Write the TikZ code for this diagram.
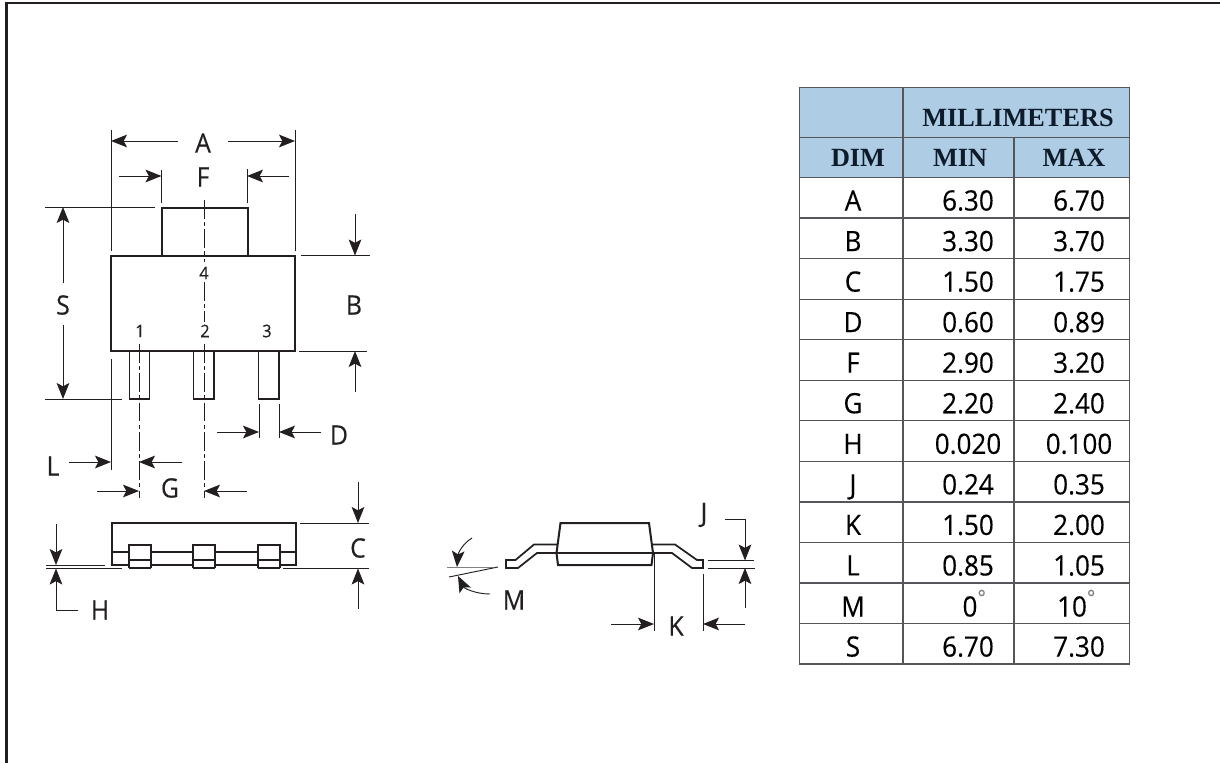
\documentclass[tikz,border=0pt]{standalone}
\usepackage{fontspec}
\setmainfont[FakeStretch=0.93,FakeBold=0.25]{Open Sans}
\newfontfamily\hdfont{Liberation Serif}
\usetikzlibrary{arrows.meta}
\definecolor{inkc}{HTML}{231F20}
\definecolor{hdblue}{HTML}{AECDE4}
\definecolor{gridc}{HTML}{55565A}
\definecolor{hdink}{HTML}{0E1B2A}
\tikzset{
  part/.style={draw=inkc,line width=1.5pt,line join=miter},
  thinpart/.style={draw=inkc,line width=0.9pt},
  ext/.style={draw=inkc,line width=0.7pt},
  center/.style={draw=inkc,line width=0.7pt,dash pattern=on 14pt off 2.5pt on 3pt off 2.5pt},
  dim/.style={draw=inkc,line width=0.7pt,-{Stealth[length=12pt,width=9.5pt,inset=2.5pt]}},
  lbl/.style={font=\fontsize{20}{20}\selectfont,text=inkc,inner sep=0pt,anchor=center},
  pinno/.style={font=\fontsize{13}{13}\selectfont,text=inkc,inner sep=0pt,anchor=center},
  hdr/.style={font=\hdfont\bfseries\fontsize{19.7}{19.7}\selectfont,text=hdink,inner sep=0pt,anchor=center},
  cell/.style={font=\fontsize{21}{21}\selectfont,text=black,inner sep=0pt,anchor=base},
  grid/.style={draw=gridc,line width=0.9pt}
}
\newcommand{\degmark}{\rlap{\raisebox{8.5pt}{\fontsize{16}{16}\selectfont\textcolor{gray}{°}}}}
\begin{document}
\begin{tikzpicture}[x=0.75pt,y=-0.75pt]
\useasboundingbox (0,0) rectangle (1220,763);
\fill[white] (0,0) rectangle (1220,763);
% frame
\draw[inkc,line width=1.9pt] (6.5,763) -- (6.5,3) -- (1220,3);
% top view: extension lines
\draw[ext] (111,130) -- (111,251);
\draw[ext] (295,130) -- (295,251);
\draw[ext] (161.5,170) -- (161.5,203);
\draw[ext] (247,169) -- (247,203);
\draw[ext] (45,207) -- (155,207);
\draw[ext] (45,399) -- (122,399);
\draw[ext] (301,255.5) -- (370,255.5);
\draw[ext] (299,351) -- (367,351);
\draw[ext] (111,359) -- (111,470);
\draw[ext] (259,404) -- (259,438);
\draw[ext] (279,404) -- (279,438);
% body, tab, pins
\draw[part] (161.5,255.5) -- (161.5,207.5) -- (247.5,207.5) -- (247.5,255.5);
\draw[part] (111,255.5) rectangle (295,351);
\draw[part,line width=1.2pt] (129.5,351) -- (129.5,399) -- (149.5,399) -- (149.5,351);
\draw[part,line width=1.2pt] (193.5,351) -- (193.5,399) -- (214,399) -- (214,351);
\draw[part,line width=1.2pt] (258.5,351) -- (258.5,399) -- (279,399) -- (279,351);
% centre lines
\draw[center] (204,200) -- (204,262);
\draw[center] (204,282) -- (204,322);
\draw[center] (204,344) -- (204,498);
\draw[center] (139,344) -- (139,498);
% top view dimensions
\draw[dim] (178,141) -- (111,141);
\draw[dim] (228,141) -- (295,141);
\draw[dim] (119,176) -- (161.5,176);
\draw[dim] (289,176) -- (247,176);
\draw[dim] (63,283) -- (63,207);
\draw[dim] (63,325) -- (63,399);
\draw[dim] (355,214) -- (355,255.5);
\draw[dim] (355,392) -- (355,351);
\draw[dim] (217,432) -- (259,432);
\draw[dim] (321,432) -- (279,432);
\draw[dim] (69,462) -- (111,462);
\draw[dim] (182,462) -- (139,462);
\draw[dim] (97,491) -- (139,491);
\draw[dim] (247,491) -- (204,491);
% labels, top view
\node[lbl] (lA) at (203,143) {A};
\node[lbl] (lF) at (203,177) {F};
\node[lbl] (lS) at (63,305) {S};
\node[lbl] (lB) at (354,305) {B};
\node[lbl] (lD) at (339,435) {D};
\node[lbl] (lL) at (53,466) {L};
\node[lbl] (lG) at (170,488) {G};
\node[pinno] (p1) at (140,331) {1};
\node[pinno] (p2) at (205,331) {2};
\node[pinno] (p3) at (267,331) {3};
\node[pinno] (p4) at (204,273) {4};
% bottom view
\draw[part] (112,523) rectangle (295.5,565);
\draw[part,line width=1.2pt] (112,552) -- (295.5,552);
\foreach \xa/\xb in {129/151,193/215,258/280}{
  \fill[white] (\xa,545) rectangle (\xb,568);
  \draw[part,line width=1.2pt] (\xa,568) -- (\xa,545) -- (\xb,545) -- (\xb,568);
  \draw[thinpart] (\xa,568) -- (\xb,568);
  \draw[thinpart] (\xa,560) -- (\xb,560);
}
\draw[ext] (300,523) -- (369,523);
\draw[ext] (283,568.5) -- (369,568.5);
\draw[ext] (46,565) -- (105,565);
\draw[ext] (46,568.5) -- (122,568.5);
\draw[dim] (358,482) -- (358,523);
\draw[dim] (358,609) -- (358,568.5);
\draw[dim] (56,524) -- (56,565);
\draw[dim] (78,610) -- (56,610) -- (56,568.5);
\node[lbl] (lC) at (358,548) {C};
\node[lbl] (lH) at (100,610) {H};
% side view
\draw[part,line width=1.3pt] (557,544.5) -- (534,544.5) -- (515.5,560) -- (506,560) -- (506,568) -- (518,568) -- (537,553) -- (557,553);
\draw[part,line width=1.3pt] (653,544.5) -- (675,544.5) -- (697,560) -- (703,560) -- (703,568) -- (692,568) -- (672,553) -- (653,553);
\draw[part] (560.5,523) -- (649,523) -- (653,553) -- (651.5,565) -- (558,565) -- (556.5,553) -- cycle;
\draw[part] (556.5,553) -- (653,553);
\draw[ext,draw=gray] (447,567) -- (493,567);
\draw[ext] (449,577) -- (498,567);
\draw[dim] (472,538) .. controls (462,544) and (458,554) .. (457,567);
\draw[dim] (490,594) .. controls (475,594) and (464,588) .. (458,576);
\draw[dim] (725,519) -- (745,519) -- (745,560.5);
\draw[dim] (745,608) -- (745,568);
\draw[ext] (708,560.5) -- (754,560.5);
\draw[ext] (708,568) -- (755,568);
\draw[ext] (654,553) -- (654,631);
\draw[ext] (703,574) -- (703,631);
\draw[dim] (611,624) -- (654,624);
\draw[dim] (745,624) -- (703,624);
\node[lbl] (lJ) at (704,515) {J};
\node[lbl] (lK) at (676,626) {K};
\node[lbl] (lM) at (514,600) {M};
% table
\fill[hdblue] (799.5,87.5) rectangle (1129.5,177.5);
\draw[grid] (799.5,87.5) rectangle (1129.5,664);
\draw[grid] (903,87.5) -- (903,664);
\draw[grid] (1014,137.5) -- (1014,664);
\draw[grid] (799.5,137.5) -- (1129.5,137.5);
\foreach \i in {0,...,11}{
  \draw[grid] (799.5,{177.5+\i*40.55}) -- (1129.5,{177.5+\i*40.55});
}
\node[hdr] (tM) at (1018,118) {MILLIMETERS};
\node[hdr] (tD) at (858,158) {DIM};
\node[hdr] (tN) at (960,158) {MIN};
\node[hdr] (tX) at (1074,158) {MAX};
\foreach \r/\a/\b/\n in {A/6.30/6.70/0,B/3.30/3.70/1,C/1.50/1.75/2,D/0.60/0.89/3,F/2.90/3.20/4,G/2.20/2.40/5,H/0.020/0.100/6,J/0.24/0.35/7,K/1.50/2.00/8,L/0.85/1.05/9,S/6.70/7.30/11}{
  \pgfmathsetmacro{\yy}{210.5+\n*40.55}
  \node[cell] (d\r) at (853,\yy) {\r};
  \node[cell] (a\r) at (968,\yy) {\a};
  \node[cell] (b\r) at (1079,\yy) {\b};
}
\node[cell] (dM) at (853,616.5) {M};
\node[cell] (aM) at (970,616.5) {0\degmark};
\node[cell] (bM) at (1072,616.5) {10\degmark};
\end{tikzpicture}
\end{document}
